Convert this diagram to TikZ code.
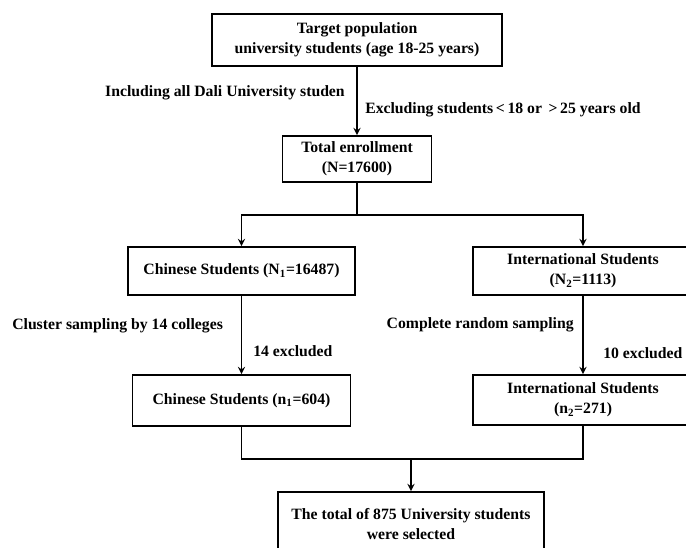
\documentclass[tikz,border=0pt]{standalone}
\usepackage{fontspec}
\setmainfont{Liberation Serif}
\usetikzlibrary{arrows}

\begin{document}
\begin{tikzpicture}[x=0.75pt, y=-0.75pt]
    \tikzstyle{box}=[draw, line width=1.4pt, align=center, inner sep=0pt, font=\fontsize{11.8}{15}\selectfont\bfseries]
    \tikzstyle{lbl}=[inner sep=0pt, font=\fontsize{11.8}{15}\selectfont\bfseries]
    \tikzstyle{link}=[line width=1.4pt, >=stealth]

    \clip (0,0) rectangle (686,548);

    % boxes
    \node[box, minimum width=217.5pt, minimum height=39pt] (target) at (357,40)
        {Target population\\university students (age 18-25 years)};
    \node[box, minimum width=111.75pt, minimum height=34.5pt] (total) at (357,159)
        {Total enrollment\\(N=17600)};
    \node[box, minimum width=170.25pt, minimum height=36pt] (chn1) at (241.5,271)
        {Chinese Students (N\textsubscript{1}=16487)};
    \node[box, minimum width=165pt, minimum height=36pt] (int1) at (583,271)
        {International Students\\(N\textsubscript{2}=1113)};
    \node[box, minimum width=163.5pt, minimum height=38.25pt] (chn2) at (241.5,400.5)
        {Chinese Students (n\textsubscript{1}=604)};
    \node[box, minimum width=165pt, minimum height=37.5pt] (int2) at (583,400)
        {International Students\\(n\textsubscript{2}=271)};
    \node[box, minimum width=199.5pt, minimum height=48pt] (final) at (411,524)
        {The total of 875 University students\\were selected};

    % labels
    \node[lbl, anchor=east] (incl) at (345,93) {Including all Dali University studen};
    \node[lbl, anchor=west] (excl) at (365,110) {Excluding students\,<\,18 or \,>\,25 years old};
    \node[lbl, anchor=west] (clus) at (12,326) {Cluster sampling by 14 colleges};
    \node[lbl, anchor=west] (exc1) at (253,351) {14 excluded};
    \node[lbl, anchor=east] (rand) at (574,325) {Complete random sampling};
    \node[lbl, anchor=west] (exc2) at (603,353) {10 excluded};

    % connectors
    \draw[link, ->] (target) -- (total);
    \draw[link] (total.south) -- ++(0,32) coordinate (split);
    \foreach \n in {chn1, int1} {
        \draw[link, ->] (split) -| (\n.north);
    }
    \draw[link, ->] (chn1) -- (chn2);
    \draw[link, ->] (int1) -- (int2);
    \coordinate (join) at (411,459);
    \draw[link] (chn2.south) |- (join) -| (int2.south);
    \draw[link, ->] (join) -- (final);
\end{tikzpicture}
\end{document}
